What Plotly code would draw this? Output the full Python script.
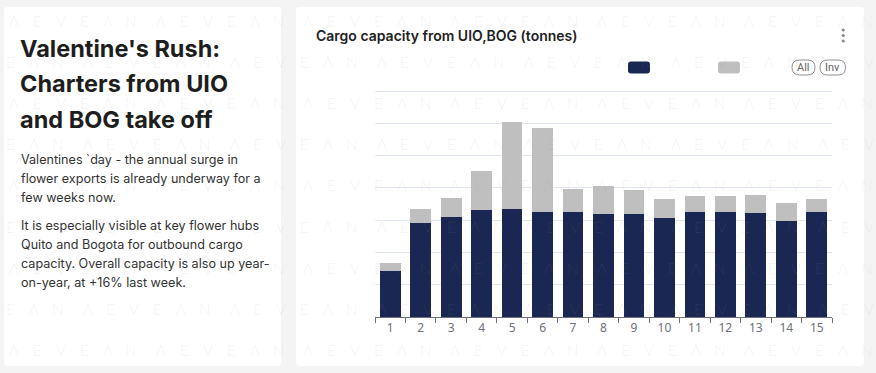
import plotly.graph_objects as go

# ---- data (y axis unlabeled, units ~tonnes) ----
weeks = [str(i) for i in range(1, 16)]
base_capacity = [1410, 2910, 3110, 3310, 3340, 3240, 3250, 3200, 3200, 3080, 3250, 3240, 3220, 2980, 3260]
extra_capacity = [260, 440, 570, 1210, 2710, 2620, 730, 870, 720, 580, 490, 500, 560, 560, 390]
chart_title = "Cargo capacity from UIO,BOG (tonnes)"
story_title = ["Valentine's Rush:", "Charters from UIO", "and BOG take off"]
story_text = [
    "Valentines `day - the annual surge in",
    "flower exports is already underway for a",
    "few weeks now.",
    "It is especially visible at key flower hubs",
    "Quito and Bogota for outbound cargo",
    "capacity. Overall capacity is also up year-",
    "on-year, at +16% last week.",
]
grid_top = 7000

W, H = 876, 373
PL, PW = 375, 457
PT, PH = 88, 229
Y_TOP = grid_top * PH / 226.0


def px(x):
    return (x - PL) / PW


def py(y):
    return (PT + PH - y) / PH


NAVY = "#1a2752"
GREY = "#bfbfbf"
AXIS = "#6e7079"

fig = go.Figure()
fig.add_trace(go.Bar(x=weeks, y=base_capacity, name="Base", marker=dict(color=NAVY, line=dict(width=0))))
fig.add_trace(go.Bar(x=weeks, y=extra_capacity, name="Charters", marker=dict(color=GREY, line=dict(width=0))))


def rrect(x0, y0, x1, y1, r):
    X0, X1 = px(x0), px(x1)
    Y0, Y1 = py(y0), py(y1)
    rx, ry = r / PW, r / PH
    return (f"M {X0+rx},{Y0} L {X1-rx},{Y0} Q {X1},{Y0} {X1},{Y0-ry} "
            f"L {X1},{Y1+ry} Q {X1},{Y1} {X1-rx},{Y1} L {X0+rx},{Y1} "
            f"Q {X0},{Y1} {X0},{Y1+ry} L {X0},{Y0-ry} Q {X0},{Y0} {X0+rx},{Y0} Z")


shapes = []
for (x0, y0, x1, y1) in [(4, 7, 281, 366), (296, 7, 864, 366)]:
    shapes.append(dict(type="path", xref="paper", yref="paper", path=rrect(x0, y0, x1, y1, 4),
                       fillcolor="white", line=dict(width=0), layer="below"))
for (x0, x1, c) in [(628, 650, NAVY), (718, 740, GREY)]:
    shapes.append(dict(type="path", xref="paper", yref="paper", path=rrect(x0, 61.5, x1, 73.5, 3),
                       fillcolor=c, line=dict(width=0), layer="above"))
for (x0, x1) in [(792, 815), (820, 845.5)]:
    shapes.append(dict(type="path", xref="paper", yref="paper", path=rrect(x0, 60, x1, 75, 7.5),
                       fillcolor="white", line=dict(color="#8f8f8f", width=1), layer="above"))
for yy in [30, 35.5, 41]:
    shapes.append(dict(type="circle", xref="paper", yref="paper",
                       x0=px(841.6), x1=px(844.8), y0=py(yy - 1.6), y1=py(yy + 1.6),
                       fillcolor="#8a8a8a", line=dict(width=0)))

annotations = []
letters = ["\u039b", "E", "V", "E", "\u039b", "N"]
for r in range(9):
    yy = 21 + 41.1 * r
    base = 14 + (r % 2) * 73.5
    for k in range(-1, 7):
        for j, ch in enumerate(letters):
            xx = base + 147 * k + j * 23.4
            if 0 <= xx <= 870:
                annotations.append(dict(text=ch, x=px(xx), y=py(yy), xref="paper", yref="paper",
                                        showarrow=False, xanchor="center", yanchor="middle",
                                        font=dict(family="Lato, sans-serif", size=15, weight=300,
                                                  color="rgba(150,150,150,0.14)")))

annotations.append(dict(text=chart_title, x=px(314), y=py(36), xref="paper", yref="paper",
                        showarrow=False, xanchor="left", yanchor="middle",
                        font=dict(family="Inter, sans-serif", size=14, weight=600, color="#222")))
for (cx, t) in [(803.5, "All"), (832.7, "Inv")]:
    annotations.append(dict(text=t, x=px(cx), y=py(67.5), xref="paper", yref="paper",
                            showarrow=False, xanchor="center", yanchor="middle",
                            font=dict(family="Roboto, sans-serif", size=11, color="#666")))
for i, line in enumerate(story_title):
    annotations.append(dict(text=line, x=px(18), y=py(48 + 35.5 * i), xref="paper", yref="paper",
                            showarrow=False, xanchor="left", yanchor="middle",
                            font=dict(family="Inter, sans-serif", size=23.5, weight=700, color="#1e1e1e")))
para_y = [159, 178.3, 197.7, 225, 244.3, 263.7, 282.7]
for line, yy in zip(story_text, para_y):
    annotations.append(dict(text=line, x=px(18.5), y=py(yy), xref="paper", yref="paper",
                            showarrow=False, xanchor="left", yanchor="middle",
                            font=dict(family="Inter, sans-serif", size=12.6, color="#333")))

fig.update_layout(
    width=W, height=H, autosize=False,
    margin=dict(l=PL, r=W - PL - PW, t=PT, b=H - PT - PH, pad=0),
    paper_bgcolor="#f4f4f4", plot_bgcolor="rgba(0,0,0,0)",
    barmode="stack", bargap=0.32, showlegend=False,
    shapes=shapes, annotations=annotations,
    xaxis=dict(type="category", tickson="boundaries", ticks="outside", ticklen=5, tickcolor=AXIS,
               showline=True, linecolor=AXIS, linewidth=1, showgrid=False,
               tickfont=dict(family="Noto Sans, sans-serif", size=12, color=AXIS), fixedrange=True),
    yaxis=dict(range=[0, Y_TOP], dtick=1000, showticklabels=False, gridcolor="#e0e6f1",
               zeroline=False, showline=False, fixedrange=True),
)

fig.write_html("out.html", config={"displayModeBar": False},
               post_script="document.body.style.margin='0';document.body.style.background='#f4f4f4';")
